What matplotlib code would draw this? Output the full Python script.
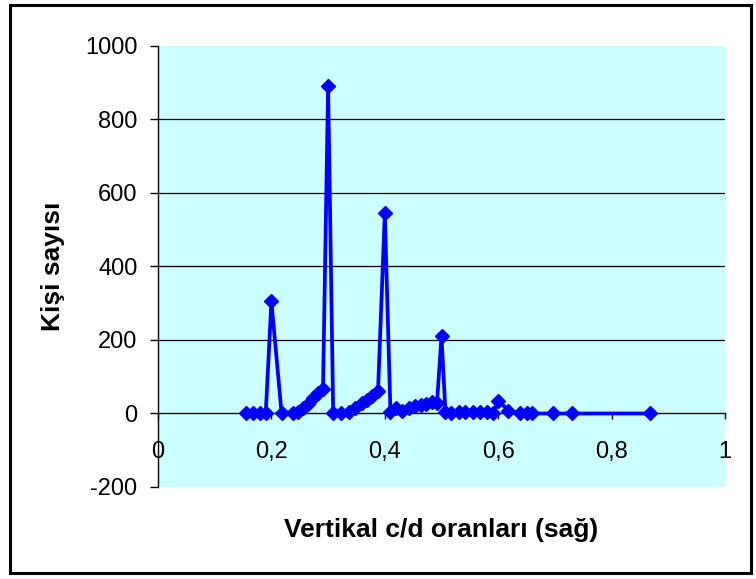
import matplotlib
matplotlib.use("Agg")
import matplotlib.pyplot as plt
from matplotlib.patches import Rectangle

plt.rcParams['font.family'] = ['Liberation Sans', 'DejaVu Sans']

# ---- data ----
ratios = [0.155, 0.167, 0.18, 0.19, 0.2, 0.218, 0.238, 0.247, 0.256, 0.265,
          0.273, 0.282, 0.291, 0.3, 0.309, 0.323, 0.337, 0.348, 0.359, 0.368,
          0.377, 0.388, 0.4, 0.41, 0.42, 0.43, 0.443, 0.453, 0.463, 0.473,
          0.483, 0.492, 0.5, 0.507, 0.517, 0.53, 0.541, 0.556, 0.568, 0.58,
          0.591, 0.6, 0.618, 0.638, 0.65, 0.66, 0.697, 0.73, 0.868]
counts = [0, 0, 0, 0, 305, 0, 0, 3, 14, 27,
          41, 55, 66, 890, 0, 0, 5, 15, 28, 38,
          47, 60, 545, 3, 14, 6, 14, 20, 22, 25,
          30, 28, 210, 3, 0, 5, 5, 3, 5, 5,
          0, 35, 8, 0, 0, 0, 0, 0, 0]

x_ticks = [0, 0.2, 0.4, 0.6, 0.8, 1.0]
x_tick_labels = ["0", "0,2", "0,4", "0,6", "0,8", "1"]
y_ticks = [-200, 0, 200, 400, 600, 800, 1000]
y_tick_labels = ["-200", "0", "200", "400", "600", "800", "1000"]
grid_levels = [200, 400, 600, 800]

x_label = "Vertikal c/d oranları (sağ)"
y_label = "Kişi sayısı"

W, H = 756, 579
fig = plt.figure(figsize=(W / 100, H / 100), dpi=100)
fig.patch.set_facecolor("white")

ax = fig.add_axes([158 / W, 1 - 487 / H, (725 - 158) / W, (487 - 46) / H])
ax.set_facecolor("#CCFFFF")
ax.set_xlim(0, 1)
ax.set_ylim(-200, 1000)

for lvl in grid_levels:
    ax.axhline(lvl, color="black", lw=0.9, zorder=1)

ax.plot(ratios, counts, color="#0000FF", lw=2.7, marker="D", ms=6.8,
        mec="#0000FF", mfc="#0000FF", zorder=3, clip_on=False)

for s in ["top", "right"]:
    ax.spines[s].set_visible(False)
ax.spines["bottom"].set_position(("data", 0))
ax.spines["bottom"].set_linewidth(1.0)
ax.spines["left"].set_linewidth(1.0)
ax.spines["bottom"].set_zorder(2)

ax.set_xticks(x_ticks)
ax.set_xticklabels(x_tick_labels)
ax.set_yticks(y_ticks)
ax.set_yticklabels(y_tick_labels)
ax.tick_params(axis="x", direction="out", length=4.5, width=1.0, pad=15,
               labelsize=17)
ax.tick_params(axis="y", direction="out", length=5.8, width=1.0, pad=9,
               labelsize=17)

fig.text(441 / W, 1 - 530 / H, x_label, ha="center", va="center",
         fontsize=19, fontweight="bold")
fig.text(53 / W, 1 - 266 / H, y_label, ha="center", va="center",
         rotation=90, fontsize=19, fontweight="bold")

fig.patches.append(Rectangle((9.5 / W, 1 - 573 / H), (751 - 9.5) / W,
                             (573 - 4.5) / H, transform=fig.transFigure,
                             fill=False, edgecolor="black", lw=2.2))

fig.savefig("out.png", dpi=100)
